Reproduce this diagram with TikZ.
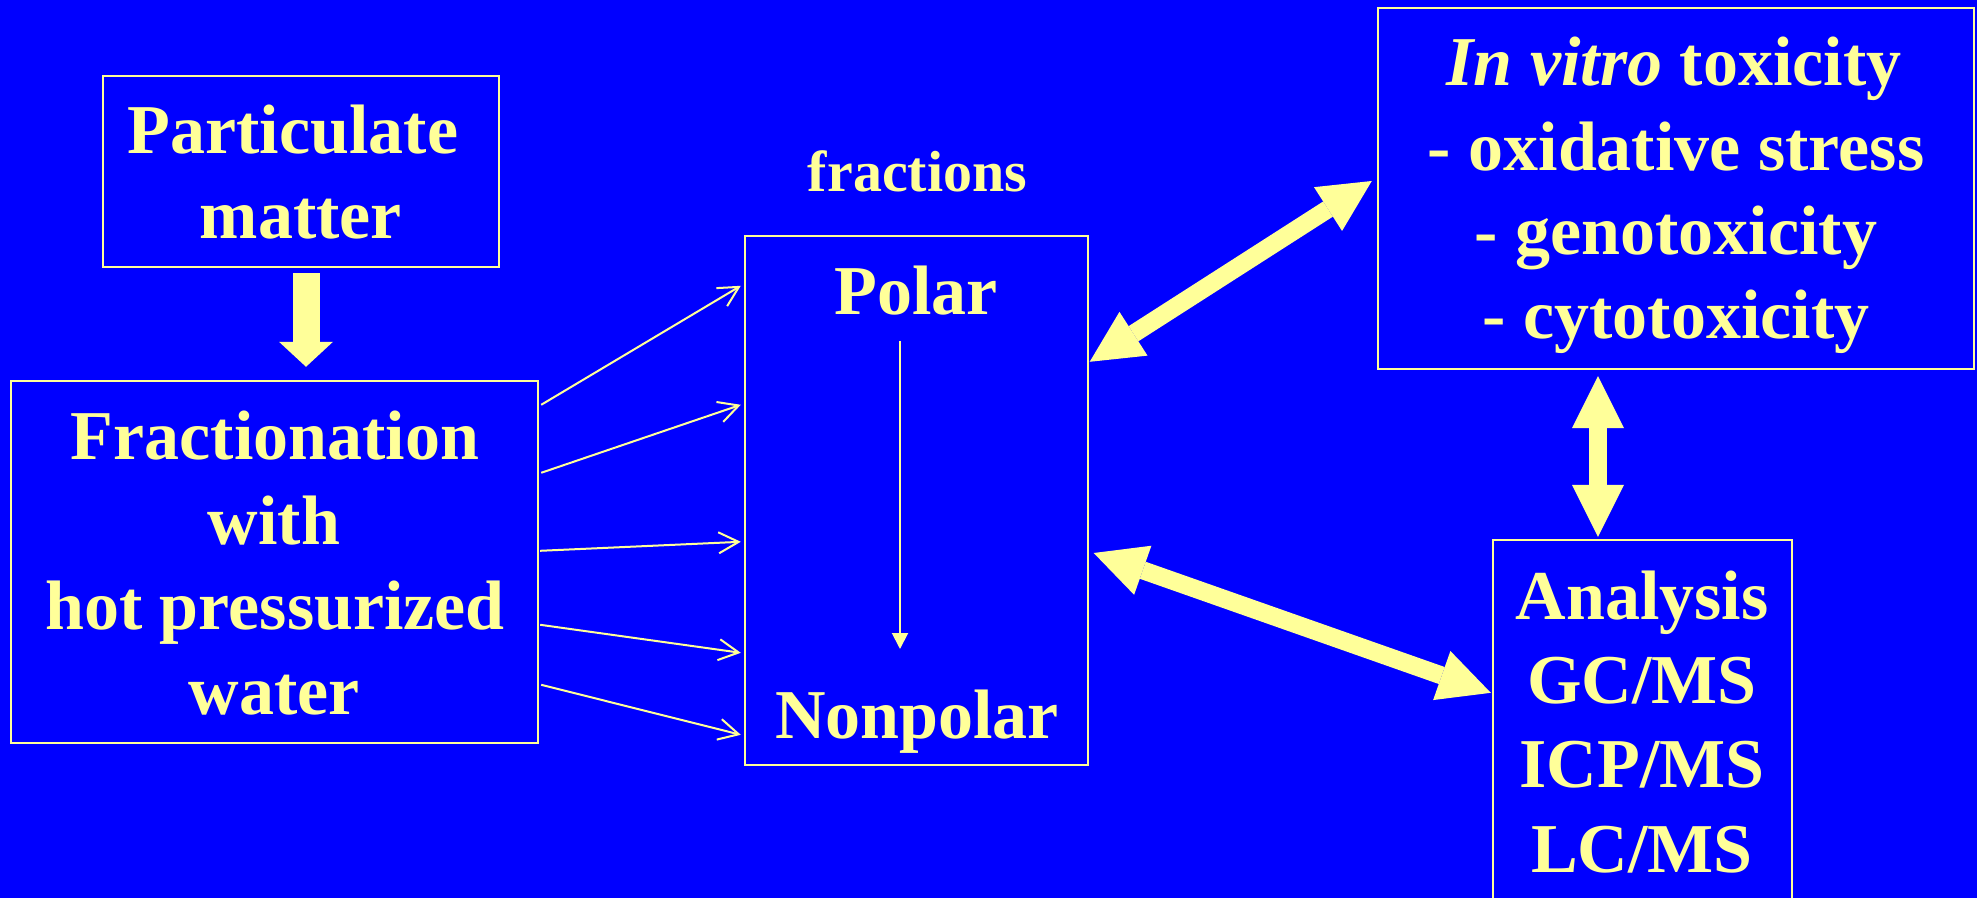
\documentclass[tikz,border=0pt]{standalone}
\usepackage{fontspec}
\setmainfont{Liberation Serif}
\usetikzlibrary{arrows.meta,calc}
\definecolor{bg}{HTML}{0000FF}
\definecolor{yel}{HTML}{FFFF99}
\begin{document}
\begin{tikzpicture}[x=0.5pt,y=-0.5pt,
  box/.style={draw=yel, line width=1.2pt, rectangle, inner sep=0pt, anchor=center},
  txt/.style={text=yel, font=\fontsize{35}{42}\selectfont\bfseries, inner sep=0pt, anchor=base},
  smalltxt/.style={text=yel, font=\fontsize{29}{35}\selectfont\bfseries, inner sep=0pt, anchor=base},
  thinarrow/.style={draw=yel, line width=1pt, -{Straight Barb[length=10pt,width=10.5pt]}},
  innerarrow/.style={draw=yel, line width=1pt, -{Triangle[length=8pt,width=8pt]}},
  bigarrow/.style={draw=yel, line width=9pt,
    {Triangle[length=26pt,width=26pt,line width=0pt]}-{Triangle[length=26pt,width=26pt,line width=0pt]}},
  downarrow/.style={draw=yel, line width=13.5pt, -{Triangle[length=12.5pt,width=27pt,line width=0pt]}}
]
\useasboundingbox (0,0) rectangle (1977,898);
\clip (0,0) rectangle (1977,898);
\fill[bg] (0,0) rectangle (1977,898);

% boxes
\node[box, minimum width=198pt, minimum height=95.5pt] (pm) at (301,171.5) {};
\node[box, minimum width=263.5pt, minimum height=181pt] (frac) at (274.5,562) {};
\node[box, minimum width=171.5pt, minimum height=264.5pt] (mid) at (916.5,500.5) {};
\node[box, minimum width=298pt, minimum height=180.5pt] (tox) at (1676,188.5) {};
\node[box, minimum width=149.5pt, minimum height=185pt] (ana) at (1642.5,725) {};

% texts
\node[txt] (pm1) at (293,154) {Particulate};
\node[txt] (pm2) at (301,239) {matter};
\node[txt] (f1) at (275,460) {Fractionation};
\node[txt] (f2) at (274,545) {with};
\node[txt] (f3) at (275,629) {hot pressurized};
\node[txt] (f4) at (274,714) {water};
\node[smalltxt] (fr) at (917.5,192) {fractions};
\node[txt] (polar) at (916,315) {Polar};
\node[txt] (nonpolar) at (917,738) {Nonpolar};
\node[txt] (t1) at (1674,86) {\textit{In vitro} toxicity};
\node[txt] (t2) at (1676,171) {- oxidative stress};
\node[txt] (t3) at (1676,255) {- genotoxicity};
\node[txt] (t4) at (1676,339) {- cytotoxicity};
\node[txt] (a1) at (1642,619) {Analysis};
\node[txt] (a2) at (1642,703) {GC/MS};
\node[txt] (a3) at (1642,787.5) {ICP/MS};
\node[txt] (a4) at (1642,872) {LC/MS};

% connectors
\draw[downarrow] ($(pm.south)+(5,5)$) -- ($(frac.north)+(31.5,-13)$);

\draw[thinarrow] ($(frac.north east)+(2,25)$) -- ($(mid.north west)+(-3,51)$);
\draw[thinarrow] ($(frac.north east)+(2,93)$) -- ($(mid.north west)+(-3,170)$);
\draw[thinarrow] ($(frac.north east)+(1,171)$) -- ($(mid.north west)+(-3,307)$);
\draw[thinarrow] ($(frac.north east)+(1,245)$) -- ($(mid.north west)+(-3,418)$);
\draw[thinarrow] ($(frac.north east)+(2,305)$) -- ($(mid.north west)+(-3,500)$);

\draw[innerarrow] ($(polar.base)+(-16,26)$) -- ($(nonpolar.base)+(-17,-89)$);

\draw[bigarrow] ($(mid.north east)+(0.5,127)$) -- ($(tox.west)+(-5,-7.5)$);
\draw[bigarrow] ($(mid.east)+(4.5,52.5)$) -- ($(ana.north west)+(-1,154)$);
\draw[bigarrow] ($(tox.south)+(-78,6)$) -- ($(ana.north)+(-44.5,-2)$);
\end{tikzpicture}
\end{document}
